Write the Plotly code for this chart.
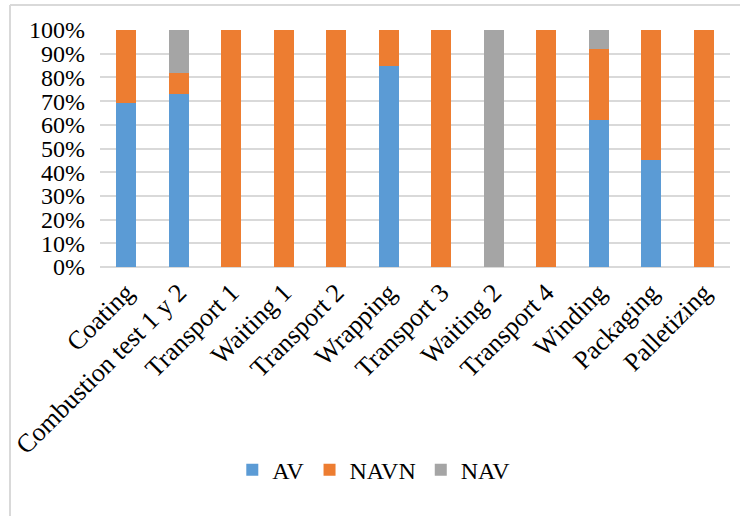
import plotly.graph_objects as go

# Process activities and their value-added breakdown (percent of each activity)
activities = ["Coating", "Combustion test 1 y 2", "Transport 1", "Waiting 1",
              "Transport 2", "Wrapping", "Transport 3", "Waiting 2",
              "Transport 4", "Winding", "Packaging", "Palletizing"]
av = [69, 73, 0, 0, 0, 85, 0, 0, 0, 62, 45, 0]
navn = [31, 9, 100, 100, 100, 15, 100, 0, 100, 30, 55, 100]
nav = [0, 18, 0, 0, 0, 0, 0, 100, 0, 8, 0, 0]

series = [("AV", av, "#5B9BD5"), ("NAVN", navn, "#ED7D31"), ("NAV", nav, "#A5A5A5")]

FONT = "Liberation Serif, Times New Roman, serif"

fig = go.Figure()
for name, vals, color in series:
    fig.add_trace(go.Bar(x=activities, y=vals, name=name,
                         marker=dict(color=color, line=dict(width=0))))

fig.update_layout(
    width=740, height=516,
    barmode="stack", bargap=0.62,
    margin=dict(l=100, r=10, t=30, b=249),
    paper_bgcolor="white", plot_bgcolor="white",
    font=dict(family=FONT, size=24, color="#000000"),
    legend=dict(orientation="h", x=0.21, xanchor="left", y=-0.857, yanchor="middle",
                font=dict(size=24), itemwidth=30, traceorder="normal"),
    showlegend=True,
)
fig.update_yaxes(range=[0, 100], dtick=10, ticksuffix="%",
                 showgrid=True, gridcolor="#d9d9d9", gridwidth=1.5,
                 zeroline=True, zerolinecolor="#d9d9d9", zerolinewidth=1.5,
                 showline=False, ticks="", ticklabelstandoff=14,
                 tickfont=dict(size=24))
fig.update_xaxes(tickangle=-45, showline=False, ticks="", ticklabelstandoff=4,
                 tickfont=dict(size=26))

# Chart frame
fig.add_shape(type="line", xref="paper", yref="paper",
              x0=-90/630, x1=1.1, y0=(267-5)/237, y1=(267-5)/237,
              line=dict(color="#d9d9d9", width=2))
fig.add_shape(type="line", xref="paper", yref="paper",
              x0=-90/630, x1=-90/630, y0=(267-5)/237, y1=-1.2,
              line=dict(color="#d9d9d9", width=2))

fig.write_html("out.html")
